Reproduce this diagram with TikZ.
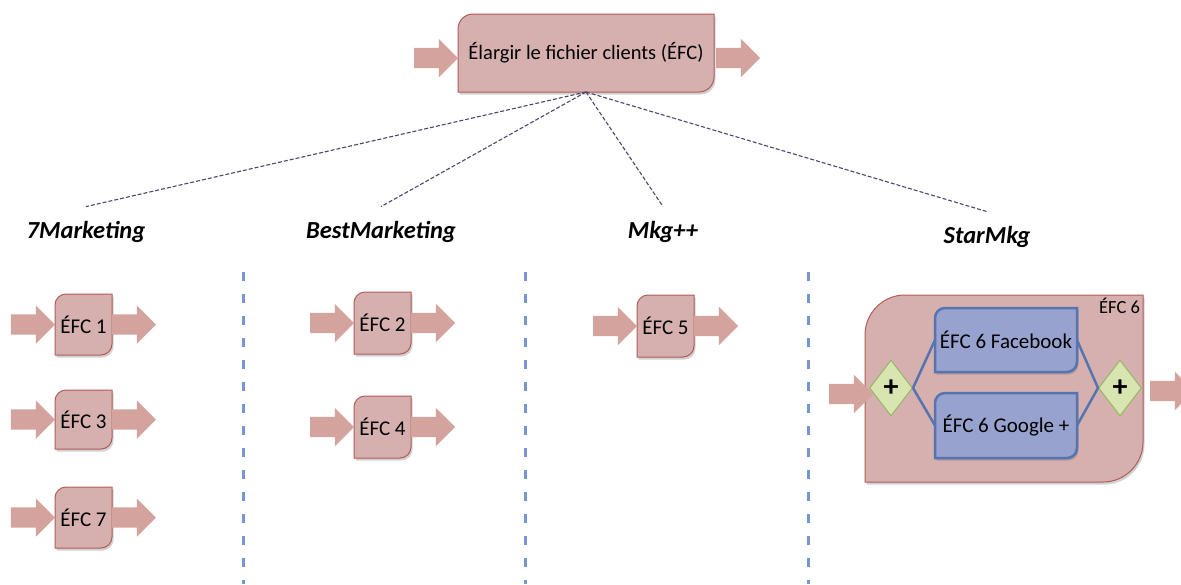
\documentclass[tikz,border=0pt]{standalone}
\usepackage{fontspec}
\setmainfont{Carlito}
\usetikzlibrary{shapes.geometric,shapes.arrows,positioning,backgrounds,shadows}
\definecolor{EFCFill}{RGB}{213,176,174}
\definecolor{EFCLine}{RGB}{178,92,88}
\definecolor{EFCArrow}{RGB}{212,163,158}
\definecolor{SubFill}{RGB}{152,162,206}
\definecolor{SubLine}{RGB}{86,116,176}
\definecolor{GateFill}{RGB}{216,229,176}
\definecolor{GateLine}{RGB}{150,182,102}
\definecolor{LaneBlue}{RGB}{116,150,210}
\definecolor{LinkGray}{RGB}{72,72,110}
\tikzset{
  efcbox/.style={inner sep=0pt,outer sep=0pt,align=center,font=\fontsize{21}{24}\selectfont},
  flow/.style={single arrow,fill=EFCArrow,draw=none,inner xsep=0pt,inner ysep=10pt,outer sep=0pt,minimum height=44pt,single arrow head extend=9pt,single arrow head indent=0pt},
  gate/.style={diamond,draw=GateLine,fill=GateFill,line width=1pt,inner sep=0pt,minimum width=43pt,minimum height=56pt,font=\fontsize{30}{32}\selectfont\bfseries},
  mkt/.style={font=\fontsize{24.5}{28}\selectfont\bfseries\itshape,inner ysep=14pt},
  link/.style={draw=LinkGray,dash pattern=on 4pt off 2pt,line width=1.1pt},
  lane/.style={draw=LaneBlue,line width=3pt,dash pattern=on 9pt off 13pt},
  sub/.style={draw=SubLine,line width=2.5pt},
}
% box with rounded top-left and bottom-right corners
\newcommand{\cornerbox}[3]{%
  \begin{scope}[on background layer]
    \filldraw[#3,drop shadow={shadow xshift=1.5pt,shadow yshift=-2.5pt,opacity=.3,fill=black!60}]
      (#1.north east) -- ([yshift=#2]#1.south east)
      arc[start angle=0,end angle=-90,radius=#2] -- (#1.south west)
      -- ([yshift=-#2]#1.north west) arc[start angle=180,end angle=90,radius=#2] -- cycle;
  \end{scope}}

\begin{document}
\begin{tikzpicture}[x=1pt,y=-1pt]
    \useasboundingbox (0,0) rectangle (1181,584);
    % top process
    \node[efcbox,minimum width=256pt,minimum height=78pt,font=\fontsize{20.5}{24}\selectfont] (efc) at (586,53) {Élargir le fichier clients (ÉFC)};
    \cornerbox{efc}{15pt}{fill=EFCFill,draw=EFCLine,line width=1pt}
    \node[flow,left=0pt of efc,yshift=-5pt] (efcin) {};
    \node[flow,right=2pt of efc,yshift=-5pt] (efcout) {};
    % vendors
    \node[mkt,anchor=base] (h7)   at (86,238)  {7Marketing};
    \node[mkt,anchor=base] (best) at (381,238) {BestMarketing};
    \node[mkt,anchor=base] (mkg)  at (663,238) {Mkg++};
    \node[mkt,anchor=base] (star) at (987,243) {StarMkg};
    \draw[link] (efc.south) -- (h7.north);
    \draw[link] (efc.south) -- (best.north);
    \draw[link] (efc.south) -- (mkg.north);
    \draw[link] (efc.south) -- (star.north);
    \foreach \x in {243,525,808}
      \draw[lane] (\x,272) -- (\x,584);
    % 7Marketing
    \node[efcbox,minimum width=57pt,minimum height=61pt] (e1) at (83.5,324.5) {ÉFC 1};
    \node[efcbox,minimum width=57pt,minimum height=59pt] (e3) at (83.5,419.5) {ÉFC 3};
    \node[efcbox,minimum width=57pt,minimum height=61pt] (e7) at (83.5,517.5) {ÉFC 7};
    % BestMarketing
    \node[efcbox,minimum width=57pt,minimum height=62pt] (e2) at (382.5,323) {ÉFC 2};
    \node[efcbox,minimum width=57pt,minimum height=62pt] (e4) at (382.5,427) {ÉFC 4};
    % Mkg++
    \node[efcbox,minimum width=57pt,minimum height=62pt] (e5) at (665.5,326) {ÉFC 5};
    \cornerbox{e1}{11pt}{fill=EFCFill,draw=EFCLine,line width=1pt}
    \cornerbox{e3}{11pt}{fill=EFCFill,draw=EFCLine,line width=1pt}
    \cornerbox{e7}{11pt}{fill=EFCFill,draw=EFCLine,line width=1pt}
    \cornerbox{e2}{11pt}{fill=EFCFill,draw=EFCLine,line width=1pt}
    \cornerbox{e4}{11pt}{fill=EFCFill,draw=EFCLine,line width=1pt}
    \cornerbox{e5}{11pt}{fill=EFCFill,draw=EFCLine,line width=1pt}
    \node[flow,left=0pt of e1] (e1in) {};
    \node[flow,right=0pt of e1] (e1out) {};
    \node[flow,left=0pt of e3] (e3in) {};
    \node[flow,right=0pt of e3] (e3out) {};
    \node[flow,left=0pt of e7] (e7in) {};
    \node[flow,right=0pt of e7] (e7out) {};
    \node[flow,left=0pt of e2] (e2in) {};
    \node[flow,right=0pt of e2] (e2out) {};
    \node[flow,left=0pt of e4] (e4in) {};
    \node[flow,right=0pt of e4] (e4out) {};
    \node[flow,left=0pt of e5] (e5in) {};
    \node[flow,right=0pt of e5] (e5out) {};
    % StarMkg
    \node[efcbox,minimum width=278pt,minimum height=187pt] (e6) at (1004,388.5) {};
    \node[efcbox,anchor=north east,font=\fontsize{18.5}{21}\selectfont] (e6lab) at (1140,298) {ÉFC 6};
    \node[efcbox,minimum width=142pt,minimum height=64pt] (fb) at (1006,340) {ÉFC 6 Facebook};
    \node[efcbox,minimum width=142pt,minimum height=65pt] (gp) at (1006,425.5) {ÉFC 6 Google +};
    \cornerbox{e6}{40pt}{fill=EFCFill,draw=EFCLine,line width=1pt}
    \cornerbox{fb}{10pt}{fill=SubFill,draw=SubLine,line width=2.5pt}
    \cornerbox{gp}{10pt}{fill=SubFill,draw=SubLine,line width=2.5pt}
    \node[gate] (gl) at (891,388) {+};
    \node[gate] (gr) at (1120,388) {+};
    \draw[sub] (gl.east) -- (fb.west);
    \draw[sub] (gl.east) -- (gp.west);
    \draw[sub] (fb.east) -- (gr.west);
    \draw[sub] (gp.east) -- (gr.west);
    \node[flow] (e6in) at (846,394) {};
    \node[flow] (e6out) at (1167,391) {};
  \end{tikzpicture}
\end{document}
